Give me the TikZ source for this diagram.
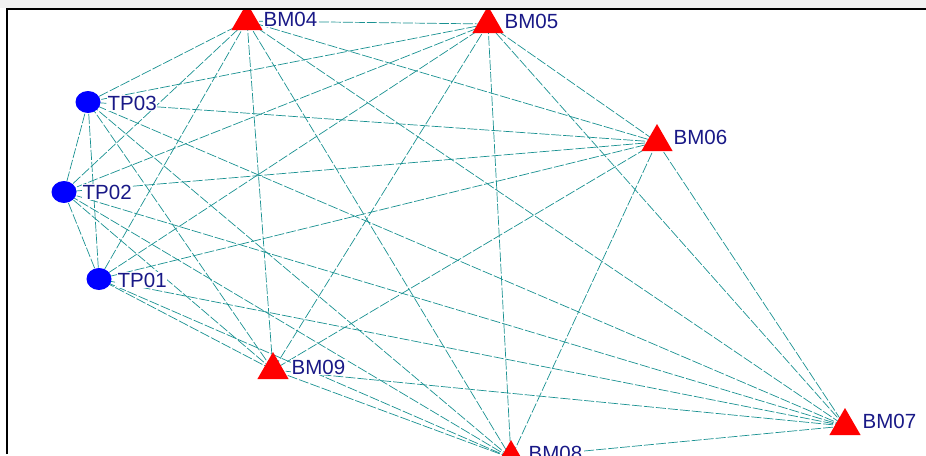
\documentclass[tikz,border=0pt]{standalone}
\usepackage{fontspec}
\setmainfont{Liberation Sans}
\usetikzlibrary{shapes.geometric}
\pgfdeclarelayer{bg}
\pgfsetlayers{bg,main}
\definecolor{edgecol}{RGB}{25,145,145}
\definecolor{lblcol}{RGB}{25,25,135}
\begin{document}
\begin{tikzpicture}[x=1pt,y=-1pt,
  bm/.style={regular polygon, regular polygon sides=3, fill=red, minimum size=36pt, inner sep=0pt},
  tp/.style={ellipse, fill=blue, minimum width=25pt, minimum height=22pt, inner sep=0pt},
  lbl/.style={anchor=west, text=lblcol, fill=white, font=\fontsize{20.5}{21}\selectfont, inner sep=0.5pt},
  edge/.style={draw=edgecol, line width=0.7pt, dash pattern=on 10pt off 2pt}]
\useasboundingbox (0,0) rectangle (926,455);
\fill[black!5] (0,0) rectangle (926,8);
\begin{scope}
\clip (7,9) rectangle (926,455);
% nodes
\node[bm] (BM04) at (247,21) {};
\node[bm] (BM05) at (488,24) {};
\node[bm] (BM06) at (657,142) {};
\node[bm] (BM07) at (845,426) {};
\node[bm] (BM08) at (511,458) {};
\node[bm] (BM09) at (273,370) {};
\node[tp] (TP03) at (88,102) {};
\node[tp] (TP02) at (64,192) {};
\node[tp] (TP01) at (99,279) {};
% labels
\node[lbl] (lBM04) at (263,19) {BM04};
\node[lbl] (lBM05) at (504,21) {BM05};
\node[lbl] (lBM06) at (673,137) {BM06};
\node[lbl] (lBM07) at (862,421) {BM07};
\node[lbl] (lBM08) at (528,453) {BM08};
\node[lbl] (lBM09) at (291,367) {BM09};
\node[lbl] (lTP03) at (107,103) {TP03};
\node[lbl] (lTP02) at (82,192) {TP02};
\node[lbl] (lTP01) at (117,280) {TP01};
\end{scope}
\begin{pgfonlayer}{bg}
\begin{scope}
\clip (7,9) rectangle (926,455);
\foreach \a/\b in {BM04/BM05,BM04/BM06,BM04/BM07,BM04/BM08,BM04/BM09,BM04/TP03,BM04/TP02,BM04/TP01,
  BM05/BM06,BM05/BM07,BM05/BM08,BM05/BM09,BM05/TP03,BM05/TP02,BM05/TP01,
  BM06/BM07,BM06/BM08,BM06/BM09,BM06/TP03,BM06/TP02,BM06/TP01,
  BM07/BM08,BM07/BM09,BM07/TP03,BM07/TP02,BM07/TP01,
  BM08/BM09,BM08/TP03,BM08/TP02,BM08/TP01,
  BM09/TP03,BM09/TP02,BM09/TP01,
  TP03/TP02,TP03/TP01,TP02/TP01}
  \draw[edge] (\a.center) -- (\b.center);
\end{scope}
\end{pgfonlayer}
\draw[line width=1.2pt] (7,454) -- (7,9) -- (926,9);
\end{tikzpicture}
\end{document}
